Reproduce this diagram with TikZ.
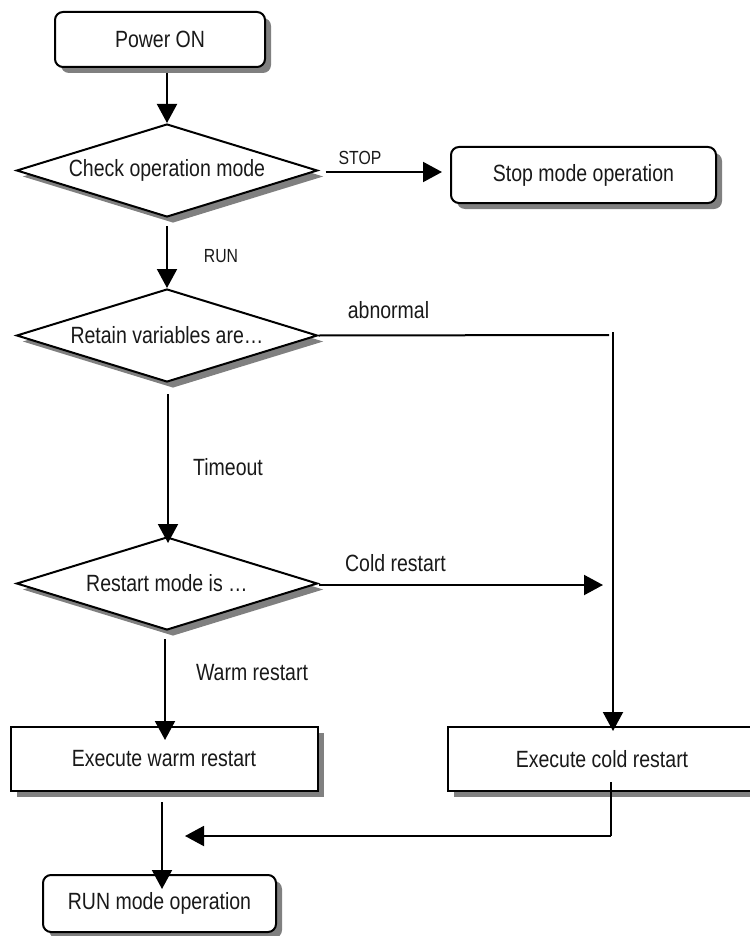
\documentclass[tikz,border=0pt]{standalone}
\usepackage{fontspec}
\setmainfont{Liberation Sans}[FakeStretch=0.83]
\usetikzlibrary{shapes.geometric,shadows,arrows.meta}
\tikzset{
  line/.style={line width=2pt, draw=black},
  arr/.style={line, -{Triangle[length=19pt,width=20pt]}},
  shad/.style={drop shadow={shadow xshift=6pt, shadow yshift=-6pt, fill=black!50, opacity=1}},
  txt/.style={font=\fontsize{23.5}{27}\selectfont, text=black!90},
  lbl/.style={txt, inner sep=0pt},
  smalllbl/.style={font=\fontsize{19}{22}\selectfont, text=black!90, inner sep=0pt},
  rbox/.style={txt, line, fill=white, shad, rounded corners=8pt, inner sep=0pt},
  sbox/.style={txt, line, fill=white, shad, inner sep=0pt},
  dia/.style={txt, line, fill=white, shad, diamond, shape aspect=3.2, inner sep=0pt, minimum width=301pt, minimum height=93pt},
}
\begin{document}
\begin{tikzpicture}[x=1pt,y=-1pt]
\useasboundingbox (0,0) rectangle (749,936);
\node[rbox, minimum width=210pt, minimum height=55pt] (pon) at (160,39.5) {Power ON};
\node[dia] (chk) at (167,170.5) {Check operation mode};
\node[rbox, minimum width=265pt, minimum height=56pt] (stop) at (583.5,175) {Stop mode operation};
\node[dia] (ret) at (167,335.5) {Retain variables are…};
\node[dia] (rst) at (167,583.5) {Restart mode is …};
\node[sbox, minimum width=307pt, minimum height=64pt] (warm) at (164,759) {Execute warm restart};
\node[sbox, minimum width=308pt, minimum height=64pt] (cold) at (602,759) {Execute cold restart};
\node[rbox, minimum width=233pt, minimum height=57pt] (runm) at (159.5,903.5) {RUN mode operation};

% connectors
\draw[arr] (pon.south -| 167,0) ++(0,5) -- (chk.north);
\draw[arr] (chk.south) ++(0,8) -- (ret.north);
\draw[arr] (chk.east) ++(7,1.5) -- ([xshift=-8pt]stop.west |- 0,172);
\draw[arr] (ret.south -| 168,0) ++(0,11) -- ([yshift=-7pt]rst.north -| 168,0);
\coordinate (abn) at (613,332);
\draw[line] (ret.east) -- (609,335);
\draw[arr] (abn) -- ([yshift=-5pt]cold.north -| 613,0);
\draw[arr] (rst.east) ++(0,1.5) -- (603,585);
\draw[arr] (rst.south -| 165,0) ++(0,8) -- ([yshift=-14pt]warm.north -| 165,0);
\draw[arr] (warm.south -| 162,0) ++(0,10) -- ([yshift=-15pt]runm.north -| 162,0);
\coordinate (mrg) at (611,836);
\draw[line] ([yshift=10pt]cold.south -| 611,0) -- (mrg);
\draw[arr] (mrg) -- (185,836);

% labels
\node[smalllbl] (lstop) at (360,158) {STOP};
\node[smalllbl] (lrun) at (221,256) {RUN};
\node[lbl] (labn) at (388.5,310) {abnormal};
\node[lbl] (ltime) at (228,467) {Timeout};
\node[lbl] (lcold) at (395.5,563) {Cold restart};
\node[lbl] (lwarm) at (252,673) {Warm restart};
\end{tikzpicture}
\end{document}
